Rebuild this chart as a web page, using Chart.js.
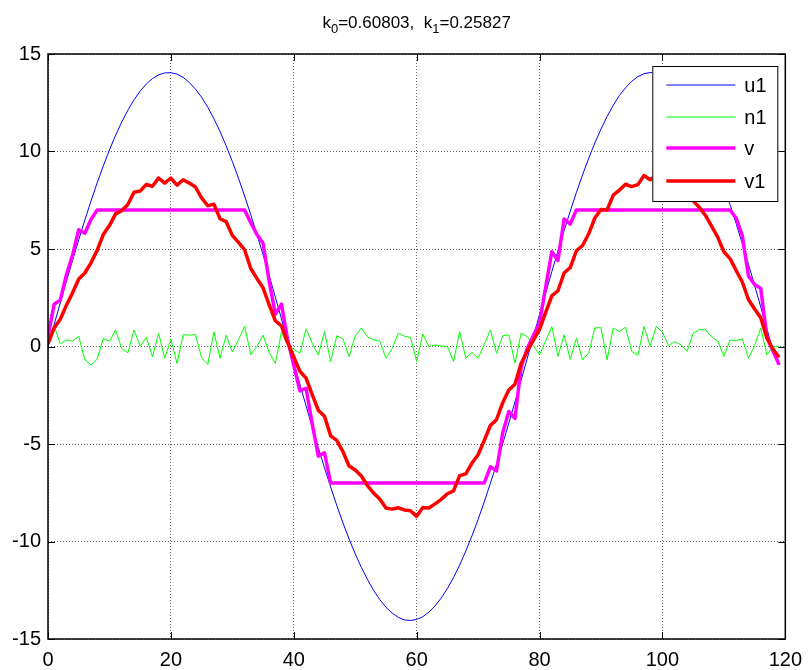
<!DOCTYPE html>
<html><head><meta charset="utf-8">
<script src="https://cdn.jsdelivr.net/npm/chart.js@4.4.1/dist/chart.umd.min.js"></script>
<style>html,body{margin:0;padding:0;background:#fff;}#wrap{width:811px;height:670px;}</style>
</head><body><div id="wrap"><canvas id="c" width="811" height="670"></canvas></div>
<script>
const xs = [0,1,2,3,4,5,6,7,8,9,10,11,12,13,14,15,16,17,18,19,20,21,22,23,24,25,26,27,28,29,30,31,32,33,34,35,36,37,38,39,40,41,42,43,44,45,46,47,48,49,50,51,52,53,54,55,56,57,58,59,60,61,62,63,64,65,66,67,68,69,70,71,72,73,74,75,76,77,78,79,80,81,82,83,84,85,86,87,88,89,90,91,92,93,94,95,96,97,98,99,100,101,102,103,104,105,106,107,108,109,110,111,112,113,114,115,116,117,118,119];
const u1 = [0,1.12,2.24,3.34,4.42,5.47,6.49,7.46,8.39,9.26,10.08,10.83,11.51,12.12,12.65,13.10,13.46,13.74,13.93,14.03,14.04,13.97,13.80,13.54,13.20,12.78,12.27,11.68,11.02,10.29,9.49,8.63,7.72,6.76,5.74,4.71,3.63,2.53,1.42,0.30,-0.82,-1.94,-3.04,-4.13,-5.19,-6.22,-7.20,-8.15,-9.04,-9.87,-10.63,-11.33,-11.95,-12.51,-12.98,-13.37,-13.67,-13.89,-14.02,-14.05,-14.00,-13.86,-13.62,-13.30,-12.90,-12.41,-11.85,-11.21,-10.49,-9.71,-8.87,-7.97,-7.02,-6.03,-4.99,-3.93,-2.84,-1.73,-0.61,0.52,1.64,2.75,3.84,4.91,5.94,6.94,7.90,8.80,9.65,10.44,11.15,11.80,12.37,12.87,13.27,13.60,13.84,13.99,14.05,14.02,13.90,13.69,13.40,13.01,12.55,12.01,11.38,10.69,9.93,9.10,8.22,7.28,6.30,5.27,4.22,3.13,2.03,0.91,-0.21,-0.95];
const n1 = [0.50,1.05,0.14,0.34,0.27,0.52,-0.68,-0.95,-0.65,0.41,0.27,0.84,-0.10,-0.32,0.84,0.02,0.48,-0.53,0.68,-0.60,0.38,-0.87,0.61,0.58,0.61,-0.58,-0.92,0.75,-0.60,0.58,-0.28,0.35,1.04,-0.41,0.00,0.58,-0.30,-0.87,0.75,0.05,-0.15,-0.34,0.90,0.17,-0.43,0.77,-0.77,0.55,0.40,-0.52,0.53,0.95,0.50,0.34,0.27,-0.60,-0.10,0.68,0.53,0.46,-0.77,0.65,0.00,0.08,0.03,0.00,-0.77,0.76,-0.60,-0.30,-0.60,0.10,0.85,-0.35,0.55,0.60,-0.85,0.68,0.51,0.05,-0.43,0.30,1.02,-0.50,0.60,-0.66,0.43,-0.68,-0.34,0.96,0.96,-0.68,0.95,0.77,0.99,-0.25,-0.46,1.03,0.02,1.03,0.73,0.05,0.25,0.09,-0.25,0.66,0.87,0.86,0.50,0.28,-0.51,0.33,0.29,0.40,-0.60,0.05,0.95,-0.42,-0.03,0.01];
const v = [0.50,2.17,2.38,3.68,4.69,5.99,5.81,6.51,7,7,7,7,7,7,7,7,7,7,7,7,7,7,7,7,7,7,7,7,7,7,7,7,7,6.35,5.74,5.29,3.33,1.66,2.17,0.35,-0.97,-2.28,-2.14,-3.96,-5.62,-5.45,-7,-7,-7,-7,-7,-7,-7,-7,-7,-7,-7,-7,-7,-7,-7,-7,-7,-7,-7,-7,-7,-7,-7,-7,-7,-7,-6.17,-6.38,-4.44,-3.33,-3.69,-1.05,-0.10,0.57,1.21,3.05,4.86,4.41,6.54,6.28,7,7,7,7,7,7,7,7,7,7,7,7,7,7,7,7,7,7,7,7,7,7,7,7,7,7,6.59,5.67,3.62,3.18,2.98,0.49,-0.24,-0.94];
const v1 = [0.13,0.95,1.40,2.12,2.76,3.46,3.77,4.29,4.93,5.74,6.20,6.80,6.97,7.28,7.91,7.97,8.31,8.22,8.64,8.38,8.64,8.27,8.55,8.38,8.18,7.62,7.22,7.30,6.55,6.40,5.70,5.34,4.96,4.00,3.49,3.01,2.13,1.32,1.06,0.20,-0.54,-1.27,-1.62,-2.47,-3.27,-3.58,-4.58,-4.81,-5.39,-6.13,-6.33,-6.64,-7.14,-7.52,-7.82,-8.28,-8.34,-8.27,-8.38,-8.42,-8.71,-8.26,-8.28,-8.07,-7.84,-7.55,-7.40,-6.62,-6.53,-5.98,-5.55,-4.82,-4.05,-3.75,-2.89,-2.23,-1.94,-0.87,-0.24,0.33,0.88,1.75,2.60,2.86,3.77,4.05,4.91,5.18,5.78,6.59,7.03,7.00,7.76,8.02,8.32,8.20,8.30,8.77,8.55,8.79,8.64,8.34,8.21,7.94,7.57,7.47,7.14,6.72,6.17,5.61,4.86,4.51,3.90,3.31,2.41,1.92,1.48,0.44,-0.14,-0.55];
const seriesNames = ['u1','n1','v','v1'];
const xTicks = [0,20,40,60,80,100,120];
const yTicks = [-15,-10,-5,0,5,10,15];
const titleParts = [['k',0],['0',1],['=0.60803,  k',0],['1',1],['=0.25827',0]];

const FONT = '"Liberation Sans", Arial, Helvetica, sans-serif';
function pts(arr){ return xs.map((x,i)=>({x:x,y:arr[i]})); }

const styles = [
  {color:'#0000ff', width:1, order:4},
  {color:'#00ff00', width:1, order:3},
  {color:'#ff00ff', width:3.5, order:2},
  {color:'#ff0000', width:3.5, order:1}
];
const seriesData = [u1,n1,v,v1];

const datasets = seriesNames.map((name,i)=>({
  label:name, data:pts(seriesData[i]), borderColor:styles[i].color, backgroundColor:styles[i].color,
  borderWidth:styles[i].width, order:styles[i].order, pointRadius:0, tension:0, fill:false,
  borderJoinStyle:'round', borderCapStyle:'butt'
}));

const titlePlugin = {
  id:'mtitle',
  afterDraw(chart){
    const ctx = chart.ctx, ca = chart.chartArea;
    ctx.save();
    ctx.fillStyle = '#000';
    ctx.textBaseline = 'alphabetic';
    const mainF = '17px ' + FONT, subF = '13px ' + FONT;
    let total = 0;
    titleParts.forEach(p=>{ ctx.font = p[1]?subF:mainF; total += ctx.measureText(p[0]).width; });
    let x = (ca.left+ca.right)/2 - total/2;
    const base = 28;
    titleParts.forEach(p=>{
      ctx.font = p[1]?subF:mainF;
      ctx.fillText(p[0], x, p[1]? base+5 : base);
      x += ctx.measureText(p[0]).width;
    });
    ctx.restore();
  }
};

const framePlugin = {
  id:'frame',
  afterDatasetsDraw(chart){
    const ctx = chart.ctx, ca = chart.chartArea;
    const xs_ = chart.scales.x, ys_ = chart.scales.y;
    ctx.save();
    ctx.strokeStyle = '#000';
    ctx.lineWidth = 1;
    const tl = 7;
    ctx.beginPath();
    xs_.ticks.forEach(t=>{
      const px = Math.round(xs_.getPixelForValue(t.value)) + 0.5;
      ctx.moveTo(px, ca.bottom); ctx.lineTo(px, ca.bottom - tl);
      ctx.moveTo(px, ca.top); ctx.lineTo(px, ca.top + tl);
    });
    ys_.ticks.forEach(t=>{
      const py = Math.round(ys_.getPixelForValue(t.value)) + 0.5;
      ctx.moveTo(ca.left, py); ctx.lineTo(ca.left + tl, py);
      ctx.moveTo(ca.right, py); ctx.lineTo(ca.right - tl, py);
    });
    ctx.stroke();
    ctx.lineWidth = 1.5;
    ctx.strokeRect(ca.left, ca.top, ca.right-ca.left, ca.bottom-ca.top);
    ctx.restore();
  }
};

const legendPlugin = {
  id:'mlegend',
  afterDraw(chart){
    const ctx = chart.ctx, ca = chart.chartArea;
    const w = 125, h = 135;
    const L = ca.right - 8 - w, T = ca.top + 12;
    ctx.save();
    ctx.fillStyle = '#fff';
    ctx.fillRect(L, T, w, h);
    ctx.strokeStyle = '#000'; ctx.lineWidth = 1;
    ctx.strokeRect(L+0.5, T+0.5, w, h);
    const rows = [19, 51, 82, 115];
    ctx.font = '20px ' + FONT;
    ctx.textBaseline = 'middle';
    chart.data.datasets.forEach((ds,i)=>{
      const y = T + rows[i];
      ctx.strokeStyle = ds.borderColor; ctx.lineWidth = ds.borderWidth;
      ctx.beginPath(); ctx.moveTo(L+14, y); ctx.lineTo(L+83, y); ctx.stroke();
      ctx.fillStyle = '#000';
      ctx.fillText(ds.label, L+92, y+1);
    });
    ctx.restore();
  }
};

const gridCfg = {color:'rgba(0,0,0,0.6)', lineWidth:1, drawTicks:false};
new Chart(document.getElementById('c'), {
  type:'line',
  data:{datasets:datasets},
  options:{
    responsive:false, animation:false, devicePixelRatio:1,
    layout:{padding:{top:54, right:20, left:0, bottom:0}},
    plugins:{legend:{display:false}, title:{display:false}, tooltip:{enabled:false}},
    scales:{
      x:{type:'linear', min:0, max:120,
         afterBuildTicks(s){ s.ticks = xTicks.map(v=>({value:v})); },
         afterFit(s){ s.height = 31; },
         ticks:{font:{size:20, family:FONT}, color:'#000', padding:9, maxRotation:0, autoSkip:false},
         grid:gridCfg, border:{display:false, dash:[1,2]}},
      y:{type:'linear', min:-15, max:15,
         afterBuildTicks(s){ s.ticks = yTicks.map(v=>({value:v})); },
         afterFit(s){ s.width = 48; },
         ticks:{font:{size:20, family:FONT}, color:'#000', padding:7, autoSkip:false},
         grid:gridCfg, border:{display:false, dash:[1,2]}}
    }
  },
  plugins:[titlePlugin, framePlugin, legendPlugin]
});
</script></body></html>
